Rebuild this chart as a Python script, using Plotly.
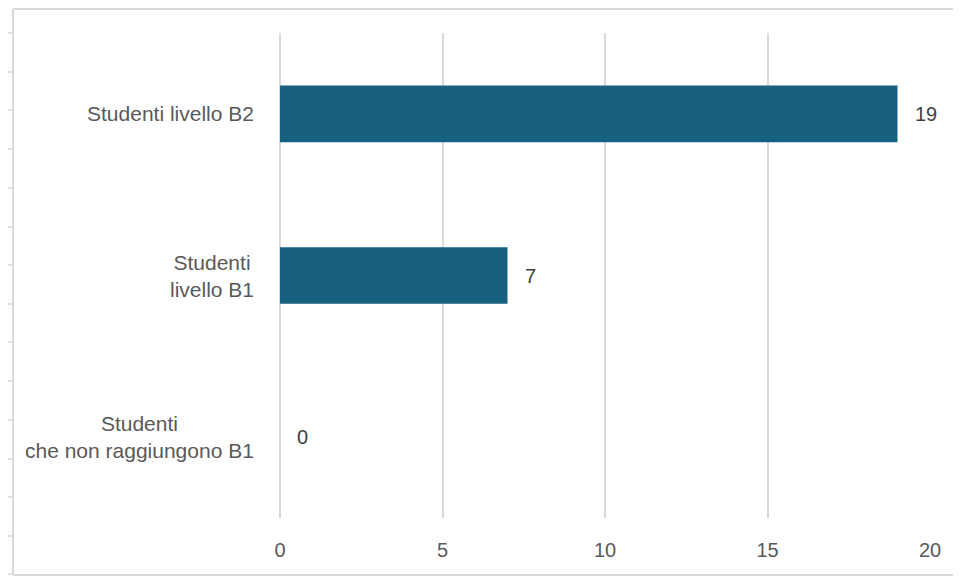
import plotly.graph_objects as go

# ---- data ----
categories = ["Studenti che non raggiungono B1", "Studenti livello B1", "Studenti livello B2"]
category_labels = ["Studenti<br>che non raggiungono B1", "Studenti<br>livello B1", "Studenti livello B2"]
values = [0, 7, 19]
x_ticks = [0, 5, 10, 15, 20]

# ---- layout geometry (page pixels; the page body adds an 8px margin) ----
OFF = 8
W, H = 961 - 2 * OFF, 584 - 2 * OFF
L, R, T, B = 280 - OFF, 930 - OFF, 33 - OFF, 518 - OFF

def px(x):
    return (x - OFF - L) / (R - L)

def py(y):
    return (B - (y - OFF)) / (B - T)

BAR = "#17607f"
GRID = "#d9d9d9"
FONT = "Liberation Sans, Arial, sans-serif"

fig = go.Figure()
fig.add_trace(go.Bar(
    x=values, y=categories, orientation="h",
    marker=dict(color=BAR, line=dict(width=0)),
    width=0.35, hoverinfo="x+y",
))

annotations = []
for cat, lab in zip(categories, category_labels):
    annotations.append(dict(
        x=px(256), xref="paper", y=cat, yref="y", text=lab,
        xanchor="right", yanchor="middle", align="center", showarrow=False,
        font=dict(family=FONT, size=21, color="#595959"),
    ))
for cat, v in zip(categories, values):
    annotations.append(dict(
        x=v, xref="x", y=cat, yref="y", text=str(v),
        xanchor="left", yanchor="middle", xshift=15, showarrow=False,
        font=dict(family=FONT, size=20, color="#404040"),
    ))

# spreadsheet background and chart border (open on the right, as the chart runs off-screen)
sheet_rows = [33, 72, 110, 149, 188, 227, 265, 304, 342, 381, 420, 459, 497, 536, 574]
border = dict(color=GRID, width=2)
shapes = [
    dict(type="line", xref="paper", yref="paper", x0=px(13), x1=px(13), y0=py(575), y1=py(9), line=border),
    dict(type="line", xref="paper", yref="paper", x0=px(13), x1=px(961), y0=py(9), y1=py(9), line=border),
    dict(type="line", xref="paper", yref="paper", x0=px(13), x1=px(961), y0=py(575), y1=py(575), line=border),
]
for yy in sheet_rows:
    shapes.append(dict(type="line", xref="paper", yref="paper",
                       x0=px(0), x1=px(12), y0=py(yy), y1=py(yy),
                       line=dict(color=GRID, width=1.5)))

fig.update_layout(
    width=W, height=H,
    margin=dict(l=L, r=W - R, t=T, b=H - B, pad=0),
    paper_bgcolor="white", plot_bgcolor="white",
    showlegend=False,
    bargap=0.65,
    xaxis=dict(range=[0, 20], tickvals=x_ticks, showgrid=True, gridcolor=GRID, gridwidth=1.5,
               zeroline=True, zerolinecolor=GRID, zerolinewidth=1.5,
               showline=False, ticks="", ticklabelstandoff=18,
               tickfont=dict(family=FONT, size=20, color="#595959"), fixedrange=True),
    yaxis=dict(categoryorder="array", categoryarray=categories, showgrid=False,
               zeroline=False, showline=False, showticklabels=False, fixedrange=True),
    annotations=annotations,
    shapes=shapes,
)

fig.write_html("out.html")
